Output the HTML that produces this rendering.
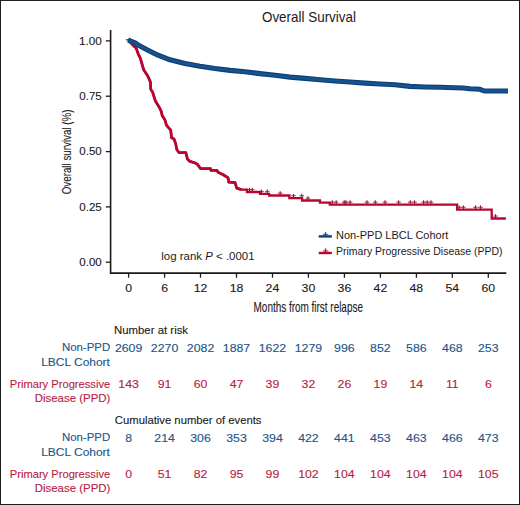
<!DOCTYPE html>
<html><head><meta charset="utf-8"><style>
html,body{margin:0;padding:0;background:#fff;}
svg{display:block;font-family:"Liberation Sans",sans-serif;}
text{stroke:currentColor;stroke-width:0.12px;}
text.ns{stroke:none;}
</style></head><body>
<svg width="520" height="505" viewBox="0 0 520 505">
<rect x="0" y="0" width="520" height="505" fill="#fff"/>
<text x="261.96" y="21.90" font-size="13.9" fill="#1c1a1b" color="#1c1a1b" textLength="94.04" lengthAdjust="spacingAndGlyphs" class="ns">Overall Survival</text>
<path d="M110.6,30 V273.1 H506.3" fill="none" stroke="#1c1a1b" stroke-width="1.6"/>
<line x1="105.8" y1="40.9" x2="110.6" y2="40.9" stroke="#1c1a1b" stroke-width="1.3"/>
<text x="78.92" y="44.80" font-size="11.1" fill="#1c1a1b" color="#1c1a1b" textLength="22.84" lengthAdjust="spacingAndGlyphs">1.00</text>
<line x1="105.8" y1="96.2" x2="110.6" y2="96.2" stroke="#1c1a1b" stroke-width="1.3"/>
<text x="79.34" y="100.12" font-size="11.1" fill="#1c1a1b" color="#1c1a1b" textLength="22.44" lengthAdjust="spacingAndGlyphs">0.75</text>
<line x1="105.8" y1="151.6" x2="110.6" y2="151.6" stroke="#1c1a1b" stroke-width="1.3"/>
<text x="79.34" y="155.45" font-size="11.1" fill="#1c1a1b" color="#1c1a1b" textLength="22.41" lengthAdjust="spacingAndGlyphs">0.50</text>
<line x1="105.8" y1="206.9" x2="110.6" y2="206.9" stroke="#1c1a1b" stroke-width="1.3"/>
<text x="79.34" y="210.78" font-size="11.1" fill="#1c1a1b" color="#1c1a1b" textLength="22.44" lengthAdjust="spacingAndGlyphs">0.25</text>
<line x1="105.8" y1="262.2" x2="110.6" y2="262.2" stroke="#1c1a1b" stroke-width="1.3"/>
<text x="79.34" y="266.10" font-size="11.1" fill="#1c1a1b" color="#1c1a1b" textLength="22.41" lengthAdjust="spacingAndGlyphs">0.00</text>
<line x1="128.6" y1="273" x2="128.6" y2="277.7" stroke="#1c1a1b" stroke-width="1.3"/>
<text x="128.60" y="292.20" font-size="11.2" fill="#1c1a1b" color="#1c1a1b" text-anchor="middle" textLength="6.85" lengthAdjust="spacingAndGlyphs">0</text>
<line x1="164.6" y1="273" x2="164.6" y2="277.7" stroke="#1c1a1b" stroke-width="1.3"/>
<text x="164.57" y="292.20" font-size="11.2" fill="#1c1a1b" color="#1c1a1b" text-anchor="middle" textLength="6.85" lengthAdjust="spacingAndGlyphs">6</text>
<line x1="200.5" y1="273" x2="200.5" y2="277.7" stroke="#1c1a1b" stroke-width="1.3"/>
<text x="200.54" y="292.20" font-size="11.2" fill="#1c1a1b" color="#1c1a1b" text-anchor="middle" textLength="13.70" lengthAdjust="spacingAndGlyphs">12</text>
<line x1="236.5" y1="273" x2="236.5" y2="277.7" stroke="#1c1a1b" stroke-width="1.3"/>
<text x="236.51" y="292.20" font-size="11.2" fill="#1c1a1b" color="#1c1a1b" text-anchor="middle" textLength="13.70" lengthAdjust="spacingAndGlyphs">18</text>
<line x1="272.5" y1="273" x2="272.5" y2="277.7" stroke="#1c1a1b" stroke-width="1.3"/>
<text x="272.48" y="292.20" font-size="11.2" fill="#1c1a1b" color="#1c1a1b" text-anchor="middle" textLength="13.70" lengthAdjust="spacingAndGlyphs">24</text>
<line x1="308.4" y1="273" x2="308.4" y2="277.7" stroke="#1c1a1b" stroke-width="1.3"/>
<text x="308.45" y="292.20" font-size="11.2" fill="#1c1a1b" color="#1c1a1b" text-anchor="middle" textLength="13.70" lengthAdjust="spacingAndGlyphs">30</text>
<line x1="344.4" y1="273" x2="344.4" y2="277.7" stroke="#1c1a1b" stroke-width="1.3"/>
<text x="344.42" y="292.20" font-size="11.2" fill="#1c1a1b" color="#1c1a1b" text-anchor="middle" textLength="13.70" lengthAdjust="spacingAndGlyphs">36</text>
<line x1="380.4" y1="273" x2="380.4" y2="277.7" stroke="#1c1a1b" stroke-width="1.3"/>
<text x="380.39" y="292.20" font-size="11.2" fill="#1c1a1b" color="#1c1a1b" text-anchor="middle" textLength="13.70" lengthAdjust="spacingAndGlyphs">42</text>
<line x1="416.4" y1="273" x2="416.4" y2="277.7" stroke="#1c1a1b" stroke-width="1.3"/>
<text x="416.36" y="292.20" font-size="11.2" fill="#1c1a1b" color="#1c1a1b" text-anchor="middle" textLength="13.70" lengthAdjust="spacingAndGlyphs">48</text>
<line x1="452.3" y1="273" x2="452.3" y2="277.7" stroke="#1c1a1b" stroke-width="1.3"/>
<text x="452.33" y="292.20" font-size="11.2" fill="#1c1a1b" color="#1c1a1b" text-anchor="middle" textLength="13.70" lengthAdjust="spacingAndGlyphs">54</text>
<line x1="488.3" y1="273" x2="488.3" y2="277.7" stroke="#1c1a1b" stroke-width="1.3"/>
<text x="488.30" y="292.20" font-size="11.2" fill="#1c1a1b" color="#1c1a1b" text-anchor="middle" textLength="13.70" lengthAdjust="spacingAndGlyphs">60</text>
<text x="253.58" y="311.60" font-size="13.9" fill="#1c1a1b" color="#1c1a1b" textLength="109.35" lengthAdjust="spacingAndGlyphs">Months from first relapse</text>
<text x="0" y="0" font-size="13.6" fill="#1c1a1b" color="#1c1a1b" textLength="84.76" lengthAdjust="spacingAndGlyphs" transform="translate(70.7,194.26) rotate(-90)">Overall survival (%)</text>
<polyline points="128.6,40.2 132.1,44.2 136.2,48.3 138.3,54.1 140.4,58.3 141.9,63.6 143.6,69.5 147.7,75.9 150.4,81.9 150.7,89.0 152.8,92.6 155.3,100.8 158.9,106.7 161.3,111.4 162.2,115.6 164.9,119.8 166.5,125.3 170.7,130.1 171.6,137.8 174.0,139.0 175.7,143.8 176.8,149.5 179.1,152.7 185.9,152.7 187.4,159.0 189.8,161.4 194.2,162.6 197.3,164.2 200.5,168.5 210.5,168.7 210.9,170.3 216.9,170.3 218.1,172.3 223.2,174.7 228.0,177.8 228.8,182.2 235.1,182.6 236.7,188.1 241.4,189.6 246.9,189.6 246.9,192.0 260.0,192.0 260.0,193.9 269.2,193.9 269.2,195.5 289.4,195.5 289.4,198.1 302.1,198.1 302.1,200.5 320.0,200.5 320.0,202.6 329.8,202.6 329.8,204.6 457.1,204.6 457.1,209.7 491.7,209.7 491.7,218.5 505.9,218.5" fill="none" stroke="#b8062e" stroke-width="2.3" stroke-linejoin="miter"/>
<polyline points="128.6,40.2 132.1,44.2 136.2,48.3 138.3,54.1 140.4,58.3 141.9,63.6 143.6,69.5 147.7,75.9 150.4,81.9 150.7,89.0 152.8,92.6 155.3,100.8 158.9,106.7 161.3,111.4 162.2,115.6 164.9,119.8 166.5,125.3 170.7,130.1 171.6,137.8 174.0,139.0 175.7,143.8 176.8,149.5 179.1,152.7 185.9,152.7 187.4,159.0 189.8,161.4 194.2,162.6 197.3,164.2 200.5,168.5 210.5,168.7 210.9,170.3 216.9,170.3 218.1,172.3 223.2,174.7 228.0,177.8 228.8,182.2 235.1,182.6 236.7,188.1 241.4,189.6" fill="none" stroke="#b8062e" stroke-width="2.8" stroke-linejoin="round"/>
<line x1="247.1" y1="189.6" x2="251.7" y2="189.6" stroke="#b8062e" stroke-width="1.2" opacity="0.75"/>
<line x1="249.4" y1="187.7" x2="249.4" y2="192" stroke="#8c1838" stroke-width="1.1"/>
<line x1="250.0" y1="189.6" x2="254.6" y2="189.6" stroke="#b8062e" stroke-width="1.2" opacity="0.75"/>
<line x1="252.3" y1="187.7" x2="252.3" y2="192" stroke="#8c1838" stroke-width="1.1"/>
<line x1="259.2" y1="191.5" x2="263.8" y2="191.5" stroke="#b8062e" stroke-width="1.2" opacity="0.75"/>
<line x1="261.5" y1="189.6" x2="261.5" y2="193.9" stroke="#8c1838" stroke-width="1.1"/>
<line x1="265.0" y1="191.5" x2="269.6" y2="191.5" stroke="#b8062e" stroke-width="1.2" opacity="0.75"/>
<line x1="267.3" y1="189.6" x2="267.3" y2="193.9" stroke="#8c1838" stroke-width="1.1"/>
<line x1="277.9" y1="193.1" x2="282.5" y2="193.1" stroke="#b8062e" stroke-width="1.2" opacity="0.75"/>
<line x1="280.2" y1="191.2" x2="280.2" y2="195.5" stroke="#8c1838" stroke-width="1.1"/>
<line x1="291.2" y1="195.7" x2="295.8" y2="195.7" stroke="#b8062e" stroke-width="1.2" opacity="0.75"/>
<line x1="293.5" y1="193.79999999999998" x2="293.5" y2="198.1" stroke="#8c1838" stroke-width="1.1"/>
<line x1="299.5" y1="195.7" x2="304.1" y2="195.7" stroke="#b8062e" stroke-width="1.2" opacity="0.75"/>
<line x1="301.8" y1="193.79999999999998" x2="301.8" y2="198.1" stroke="#8c1838" stroke-width="1.1"/>
<line x1="305.6" y1="198.1" x2="310.2" y2="198.1" stroke="#b8062e" stroke-width="1.2" opacity="0.75"/>
<line x1="307.9" y1="196.2" x2="307.9" y2="200.5" stroke="#8c1838" stroke-width="1.1"/>
<line x1="330.0" y1="202.2" x2="334.6" y2="202.2" stroke="#b8062e" stroke-width="1.2" opacity="0.75"/>
<line x1="332.3" y1="200.29999999999998" x2="332.3" y2="204.6" stroke="#8c1838" stroke-width="1.1"/>
<line x1="333.9" y1="202.2" x2="338.5" y2="202.2" stroke="#b8062e" stroke-width="1.2" opacity="0.75"/>
<line x1="336.2" y1="200.29999999999998" x2="336.2" y2="204.6" stroke="#8c1838" stroke-width="1.1"/>
<line x1="341.9" y1="202.2" x2="346.5" y2="202.2" stroke="#b8062e" stroke-width="1.2" opacity="0.75"/>
<line x1="344.2" y1="200.29999999999998" x2="344.2" y2="204.6" stroke="#8c1838" stroke-width="1.1"/>
<line x1="343.7" y1="202.2" x2="348.3" y2="202.2" stroke="#b8062e" stroke-width="1.2" opacity="0.75"/>
<line x1="346" y1="200.29999999999998" x2="346" y2="204.6" stroke="#8c1838" stroke-width="1.1"/>
<line x1="347.8" y1="202.2" x2="352.4" y2="202.2" stroke="#b8062e" stroke-width="1.2" opacity="0.75"/>
<line x1="350.1" y1="200.29999999999998" x2="350.1" y2="204.6" stroke="#8c1838" stroke-width="1.1"/>
<line x1="364.7" y1="202.2" x2="369.3" y2="202.2" stroke="#b8062e" stroke-width="1.2" opacity="0.75"/>
<line x1="367" y1="200.29999999999998" x2="367" y2="204.6" stroke="#8c1838" stroke-width="1.1"/>
<line x1="373.0" y1="202.2" x2="377.6" y2="202.2" stroke="#b8062e" stroke-width="1.2" opacity="0.75"/>
<line x1="375.3" y1="200.29999999999998" x2="375.3" y2="204.6" stroke="#8c1838" stroke-width="1.1"/>
<line x1="382.7" y1="202.2" x2="387.3" y2="202.2" stroke="#b8062e" stroke-width="1.2" opacity="0.75"/>
<line x1="385" y1="200.29999999999998" x2="385" y2="204.6" stroke="#8c1838" stroke-width="1.1"/>
<line x1="396.3" y1="202.2" x2="400.9" y2="202.2" stroke="#b8062e" stroke-width="1.2" opacity="0.75"/>
<line x1="398.6" y1="200.29999999999998" x2="398.6" y2="204.6" stroke="#8c1838" stroke-width="1.1"/>
<line x1="408.0" y1="202.2" x2="412.6" y2="202.2" stroke="#b8062e" stroke-width="1.2" opacity="0.75"/>
<line x1="410.3" y1="200.29999999999998" x2="410.3" y2="204.6" stroke="#8c1838" stroke-width="1.1"/>
<line x1="412.2" y1="202.2" x2="416.8" y2="202.2" stroke="#b8062e" stroke-width="1.2" opacity="0.75"/>
<line x1="414.5" y1="200.29999999999998" x2="414.5" y2="204.6" stroke="#8c1838" stroke-width="1.1"/>
<line x1="421.3" y1="202.2" x2="425.9" y2="202.2" stroke="#b8062e" stroke-width="1.2" opacity="0.75"/>
<line x1="423.6" y1="200.29999999999998" x2="423.6" y2="204.6" stroke="#8c1838" stroke-width="1.1"/>
<line x1="424.9" y1="202.2" x2="429.5" y2="202.2" stroke="#b8062e" stroke-width="1.2" opacity="0.75"/>
<line x1="427.2" y1="200.29999999999998" x2="427.2" y2="204.6" stroke="#8c1838" stroke-width="1.1"/>
<line x1="428.7" y1="202.2" x2="433.3" y2="202.2" stroke="#b8062e" stroke-width="1.2" opacity="0.75"/>
<line x1="431" y1="200.29999999999998" x2="431" y2="204.6" stroke="#8c1838" stroke-width="1.1"/>
<line x1="456.9" y1="207.3" x2="461.5" y2="207.3" stroke="#b8062e" stroke-width="1.2" opacity="0.75"/>
<line x1="459.2" y1="205.39999999999998" x2="459.2" y2="209.7" stroke="#8c1838" stroke-width="1.1"/>
<line x1="461.1" y1="207.3" x2="465.7" y2="207.3" stroke="#b8062e" stroke-width="1.2" opacity="0.75"/>
<line x1="463.4" y1="205.39999999999998" x2="463.4" y2="209.7" stroke="#8c1838" stroke-width="1.1"/>
<line x1="473.2" y1="207.3" x2="477.8" y2="207.3" stroke="#b8062e" stroke-width="1.2" opacity="0.75"/>
<line x1="475.5" y1="205.39999999999998" x2="475.5" y2="209.7" stroke="#8c1838" stroke-width="1.1"/>
<line x1="478.2" y1="207.3" x2="482.8" y2="207.3" stroke="#b8062e" stroke-width="1.2" opacity="0.75"/>
<line x1="480.5" y1="205.39999999999998" x2="480.5" y2="209.7" stroke="#8c1838" stroke-width="1.1"/>
<line x1="493.2" y1="216.1" x2="497.8" y2="216.1" stroke="#b8062e" stroke-width="1.2" opacity="0.75"/>
<line x1="495.5" y1="214.2" x2="495.5" y2="218.5" stroke="#8c1838" stroke-width="1.1"/>
<polyline points="128.0,40.1 128.3,40.2 135.5,43.2 139.0,45.6 148.0,50.2 158.0,55.2 170.0,59.8 185.0,63.5 200.0,66.2 215.0,68.5 230.0,70.4 245.0,71.8 260.0,73.6 275.0,75.3 290.0,77.1 305.0,78.4 320.0,79.7 335.0,81.0 350.0,82.0 365.0,83.1 380.0,84.0 395.0,84.8 410.0,86.4 425.0,87.0 440.0,87.3 455.0,87.7 463.0,88.0 470.0,88.7 480.0,89.3 484.3,91.0 508.0,91.0" fill="none" stroke="#0d3f75" stroke-width="5.1" stroke-linejoin="round"/>
<polyline points="128.0,40.1 128.3,40.2 135.5,43.2 139.0,45.6 148.0,50.2 158.0,55.2 170.0,59.8 185.0,63.5 200.0,66.2 215.0,68.5 230.0,70.4 245.0,71.8 260.0,73.6 275.0,75.3 290.0,77.1 305.0,78.4 320.0,79.7 335.0,81.0 350.0,82.0 365.0,83.1 380.0,84.0 395.0,84.8 410.0,86.4 425.0,87.0 440.0,87.3 455.0,87.7 463.0,88.0 470.0,88.7 480.0,89.3 484.3,91.0 508.0,91.0" fill="none" stroke="#15528f" stroke-width="2.8" stroke-linejoin="round"/>
<line x1="125.8" y1="39.8" x2="128.5" y2="39.8" stroke="#0e3868" stroke-width="1.1"/>
<line x1="318.7" y1="236.4" x2="331.9" y2="236.4" stroke="#0f3f74" stroke-width="2.4"/>
<line x1="325.5" y1="232.2" x2="325.5" y2="236.5" stroke="#0e3868" stroke-width="1.2"/>
<line x1="322.9" y1="234.4" x2="328.3" y2="234.4" stroke="#134c8a" stroke-width="1.2" opacity="0.75"/>
<text x="335.99" y="238.70" font-size="11.1" fill="#1c1a1b" color="#1c1a1b" textLength="112.39" lengthAdjust="spacingAndGlyphs" class="ns">Non-PPD LBCL Cohort</text>
<line x1="318.7" y1="253" x2="331.9" y2="253" stroke="#b8082e" stroke-width="2.4"/>
<line x1="325.5" y1="248.4" x2="325.5" y2="253" stroke="#8c1838" stroke-width="1.2"/>
<line x1="322.9" y1="250.9" x2="328.3" y2="250.9" stroke="#b8062e" stroke-width="1.2" opacity="0.75"/>
<text x="336.04" y="255.20" font-size="11.1" fill="#1c1a1b" color="#1c1a1b" textLength="166.50" lengthAdjust="spacingAndGlyphs" class="ns">Primary Progressive Disease (PPD)</text>
<text x="161.33" y="260.20" font-size="11.1" fill="#1c1a1b" color="#1c1a1b" textLength="93.24" lengthAdjust="spacingAndGlyphs" class="ns">log rank <tspan font-style="italic">P</tspan> &lt; .0001</text>
<text x="113.96" y="333.70" font-size="11.2" fill="#1c1a1b" color="#1c1a1b" textLength="74.13" lengthAdjust="spacingAndGlyphs">Number at risk</text>
<text x="61.96" y="351.10" font-size="11.1" fill="#22558a" color="#22558a" textLength="48.17" lengthAdjust="spacingAndGlyphs">Non-PPD</text>
<text x="41.21" y="365.50" font-size="11.1" fill="#22558a" color="#22558a" textLength="68.69" lengthAdjust="spacingAndGlyphs">LBCL Cohort</text>
<text x="9.78" y="387.80" font-size="11.1" fill="#b81d42" color="#b81d42" textLength="100.42" lengthAdjust="spacingAndGlyphs">Primary Progressive</text>
<text x="34.66" y="401.60" font-size="11.1" fill="#b81d42" color="#b81d42" textLength="75.74" lengthAdjust="spacingAndGlyphs">Disease (PPD)</text>
<text x="128.60" y="351.80" font-size="11.2" fill="#22558a" color="#22558a" text-anchor="middle" textLength="27.41" lengthAdjust="spacingAndGlyphs">2609</text>
<text x="128.60" y="387.60" font-size="11.2" fill="#b81d42" color="#b81d42" text-anchor="middle" textLength="20.56" lengthAdjust="spacingAndGlyphs">143</text>
<text x="164.57" y="351.80" font-size="11.2" fill="#22558a" color="#22558a" text-anchor="middle" textLength="27.41" lengthAdjust="spacingAndGlyphs">2270</text>
<text x="164.57" y="387.60" font-size="11.2" fill="#b81d42" color="#b81d42" text-anchor="middle" textLength="13.70" lengthAdjust="spacingAndGlyphs">91</text>
<text x="200.54" y="351.80" font-size="11.2" fill="#22558a" color="#22558a" text-anchor="middle" textLength="27.41" lengthAdjust="spacingAndGlyphs">2082</text>
<text x="200.54" y="387.60" font-size="11.2" fill="#b81d42" color="#b81d42" text-anchor="middle" textLength="13.70" lengthAdjust="spacingAndGlyphs">60</text>
<text x="236.51" y="351.80" font-size="11.2" fill="#22558a" color="#22558a" text-anchor="middle" textLength="27.41" lengthAdjust="spacingAndGlyphs">1887</text>
<text x="236.51" y="387.60" font-size="11.2" fill="#b81d42" color="#b81d42" text-anchor="middle" textLength="13.70" lengthAdjust="spacingAndGlyphs">47</text>
<text x="272.48" y="351.80" font-size="11.2" fill="#22558a" color="#22558a" text-anchor="middle" textLength="27.41" lengthAdjust="spacingAndGlyphs">1622</text>
<text x="272.48" y="387.60" font-size="11.2" fill="#b81d42" color="#b81d42" text-anchor="middle" textLength="13.70" lengthAdjust="spacingAndGlyphs">39</text>
<text x="308.45" y="351.80" font-size="11.2" fill="#22558a" color="#22558a" text-anchor="middle" textLength="27.41" lengthAdjust="spacingAndGlyphs">1279</text>
<text x="308.45" y="387.60" font-size="11.2" fill="#b81d42" color="#b81d42" text-anchor="middle" textLength="13.70" lengthAdjust="spacingAndGlyphs">32</text>
<text x="344.42" y="351.80" font-size="11.2" fill="#22558a" color="#22558a" text-anchor="middle" textLength="20.56" lengthAdjust="spacingAndGlyphs">996</text>
<text x="344.42" y="387.60" font-size="11.2" fill="#b81d42" color="#b81d42" text-anchor="middle" textLength="13.70" lengthAdjust="spacingAndGlyphs">26</text>
<text x="380.39" y="351.80" font-size="11.2" fill="#22558a" color="#22558a" text-anchor="middle" textLength="20.56" lengthAdjust="spacingAndGlyphs">852</text>
<text x="380.39" y="387.60" font-size="11.2" fill="#b81d42" color="#b81d42" text-anchor="middle" textLength="13.70" lengthAdjust="spacingAndGlyphs">19</text>
<text x="416.36" y="351.80" font-size="11.2" fill="#22558a" color="#22558a" text-anchor="middle" textLength="20.56" lengthAdjust="spacingAndGlyphs">586</text>
<text x="416.36" y="387.60" font-size="11.2" fill="#b81d42" color="#b81d42" text-anchor="middle" textLength="13.70" lengthAdjust="spacingAndGlyphs">14</text>
<text x="452.33" y="351.80" font-size="11.2" fill="#22558a" color="#22558a" text-anchor="middle" textLength="20.56" lengthAdjust="spacingAndGlyphs">468</text>
<text x="452.33" y="387.60" font-size="11.2" fill="#b81d42" color="#b81d42" text-anchor="middle" textLength="12.79" lengthAdjust="spacingAndGlyphs">11</text>
<text x="488.30" y="351.80" font-size="11.2" fill="#22558a" color="#22558a" text-anchor="middle" textLength="20.56" lengthAdjust="spacingAndGlyphs">253</text>
<text x="488.30" y="387.60" font-size="11.2" fill="#b81d42" color="#b81d42" text-anchor="middle" textLength="6.85" lengthAdjust="spacingAndGlyphs">6</text>
<text x="114.84" y="423.70" font-size="11.2" fill="#1c1a1b" color="#1c1a1b" textLength="146.65" lengthAdjust="spacingAndGlyphs">Cumulative number of events</text>
<text x="61.96" y="441.10" font-size="11.1" fill="#22558a" color="#22558a" textLength="48.17" lengthAdjust="spacingAndGlyphs">Non-PPD</text>
<text x="41.21" y="455.50" font-size="11.1" fill="#22558a" color="#22558a" textLength="68.69" lengthAdjust="spacingAndGlyphs">LBCL Cohort</text>
<text x="9.78" y="477.80" font-size="11.1" fill="#b81d42" color="#b81d42" textLength="100.42" lengthAdjust="spacingAndGlyphs">Primary Progressive</text>
<text x="34.66" y="491.60" font-size="11.1" fill="#b81d42" color="#b81d42" textLength="75.74" lengthAdjust="spacingAndGlyphs">Disease (PPD)</text>
<text x="128.60" y="441.80" font-size="11.2" fill="#22558a" color="#22558a" text-anchor="middle" textLength="6.85" lengthAdjust="spacingAndGlyphs">8</text>
<text x="128.60" y="477.60" font-size="11.2" fill="#b81d42" color="#b81d42" text-anchor="middle" textLength="6.85" lengthAdjust="spacingAndGlyphs">0</text>
<text x="164.57" y="441.80" font-size="11.2" fill="#22558a" color="#22558a" text-anchor="middle" textLength="20.56" lengthAdjust="spacingAndGlyphs">214</text>
<text x="164.57" y="477.60" font-size="11.2" fill="#b81d42" color="#b81d42" text-anchor="middle" textLength="13.70" lengthAdjust="spacingAndGlyphs">51</text>
<text x="200.54" y="441.80" font-size="11.2" fill="#22558a" color="#22558a" text-anchor="middle" textLength="20.56" lengthAdjust="spacingAndGlyphs">306</text>
<text x="200.54" y="477.60" font-size="11.2" fill="#b81d42" color="#b81d42" text-anchor="middle" textLength="13.70" lengthAdjust="spacingAndGlyphs">82</text>
<text x="236.51" y="441.80" font-size="11.2" fill="#22558a" color="#22558a" text-anchor="middle" textLength="20.56" lengthAdjust="spacingAndGlyphs">353</text>
<text x="236.51" y="477.60" font-size="11.2" fill="#b81d42" color="#b81d42" text-anchor="middle" textLength="13.70" lengthAdjust="spacingAndGlyphs">95</text>
<text x="272.48" y="441.80" font-size="11.2" fill="#22558a" color="#22558a" text-anchor="middle" textLength="20.56" lengthAdjust="spacingAndGlyphs">394</text>
<text x="272.48" y="477.60" font-size="11.2" fill="#b81d42" color="#b81d42" text-anchor="middle" textLength="13.70" lengthAdjust="spacingAndGlyphs">99</text>
<text x="308.45" y="441.80" font-size="11.2" fill="#22558a" color="#22558a" text-anchor="middle" textLength="20.56" lengthAdjust="spacingAndGlyphs">422</text>
<text x="308.45" y="477.60" font-size="11.2" fill="#b81d42" color="#b81d42" text-anchor="middle" textLength="20.56" lengthAdjust="spacingAndGlyphs">102</text>
<text x="344.42" y="441.80" font-size="11.2" fill="#22558a" color="#22558a" text-anchor="middle" textLength="20.56" lengthAdjust="spacingAndGlyphs">441</text>
<text x="344.42" y="477.60" font-size="11.2" fill="#b81d42" color="#b81d42" text-anchor="middle" textLength="20.56" lengthAdjust="spacingAndGlyphs">104</text>
<text x="380.39" y="441.80" font-size="11.2" fill="#22558a" color="#22558a" text-anchor="middle" textLength="20.56" lengthAdjust="spacingAndGlyphs">453</text>
<text x="380.39" y="477.60" font-size="11.2" fill="#b81d42" color="#b81d42" text-anchor="middle" textLength="20.56" lengthAdjust="spacingAndGlyphs">104</text>
<text x="416.36" y="441.80" font-size="11.2" fill="#22558a" color="#22558a" text-anchor="middle" textLength="20.56" lengthAdjust="spacingAndGlyphs">463</text>
<text x="416.36" y="477.60" font-size="11.2" fill="#b81d42" color="#b81d42" text-anchor="middle" textLength="20.56" lengthAdjust="spacingAndGlyphs">104</text>
<text x="452.33" y="441.80" font-size="11.2" fill="#22558a" color="#22558a" text-anchor="middle" textLength="20.56" lengthAdjust="spacingAndGlyphs">466</text>
<text x="452.33" y="477.60" font-size="11.2" fill="#b81d42" color="#b81d42" text-anchor="middle" textLength="20.56" lengthAdjust="spacingAndGlyphs">104</text>
<text x="488.30" y="441.80" font-size="11.2" fill="#22558a" color="#22558a" text-anchor="middle" textLength="20.56" lengthAdjust="spacingAndGlyphs">473</text>
<text x="488.30" y="477.60" font-size="11.2" fill="#b81d42" color="#b81d42" text-anchor="middle" textLength="20.56" lengthAdjust="spacingAndGlyphs">105</text>
<rect x="0.5" y="0.5" width="519" height="504" fill="none" stroke="#1e1e1e" stroke-width="1"/>
</svg>
</body></html>
